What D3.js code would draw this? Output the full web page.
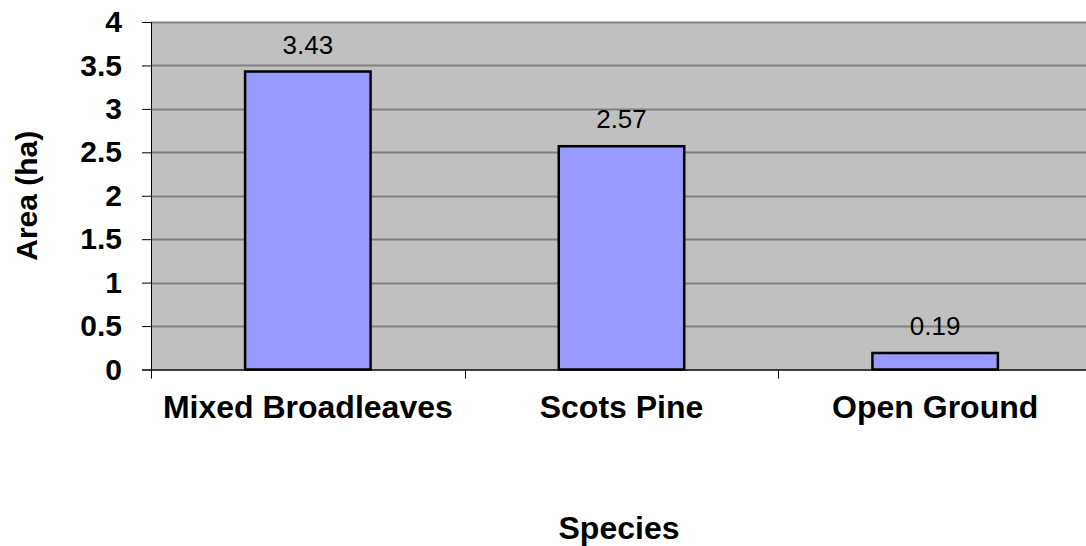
<!DOCTYPE html>
<html>
<head>
<meta charset="utf-8">
<script src="https://cdn.jsdelivr.net/npm/d3@7"></script>
<style>
body{margin:0;background:#fff;}
svg{display:block;font-family:Arial,"Liberation Sans",sans-serif;}
</style>
</head>
<body>
<svg id="chart" width="1086" height="546"></svg>
<script>
const categories = ["Mixed Broadleaves", "Scots Pine", "Open Ground"];
const values = [3.43, 2.57, 0.19];
const valueLabels = ["3.43", "2.57", "0.19"];
const yTicks = [0, 0.5, 1, 1.5, 2, 2.5, 3, 3.5, 4];
const yTickLabels = ["0", "0.5", "1", "1.5", "2", "2.5", "3", "3.5", "4"];
const xTitle = "Species";
const yTitle = "Area (ha)";

const svg = d3.select("#chart");
const pLeft = 151, pRight = 1092, pTop = 22, pBottom = 369.5;

const x = d3.scaleBand().domain(categories).range([pLeft, pRight]).paddingInner(0.6).paddingOuter(0.3);
const xCat = d3.scaleBand().domain(categories).range([pLeft, pRight]);
const y = d3.scaleLinear().domain([0, 4]).range([pBottom, pTop]);

// plot background
svg.append("rect").attr("x", pLeft).attr("y", pTop).attr("width", pRight - pLeft).attr("height", pBottom - pTop).attr("fill", "#c0c0c0");

// gridlines
svg.append("g").selectAll("line").data(yTicks.filter(d => d > 0)).join("line")
  .attr("x1", pLeft).attr("x2", pRight)
  .attr("y1", d => Math.round(y(d)) + 0.5).attr("y2", d => Math.round(y(d)) + 0.5)
  .attr("stroke", "#808080").attr("stroke-width", 2);

// y axis
const yAxis = d3.axisLeft(y).tickValues(yTicks).tickFormat((d, i) => yTickLabels[i]).tickSize(9).tickPadding(20);
const gy = svg.append("g").attr("transform", `translate(${pLeft},0)`).call(yAxis);
gy.select(".domain").attr("stroke", "#000").attr("stroke-width", 1);
gy.selectAll(".tick line").attr("stroke", "#000");
gy.selectAll(".tick text").attr("font-size", 30).attr("font-weight", "bold").attr("fill", "#000")
  .attr("font-family", "Arial, 'Liberation Sans', sans-serif");

// bars
svg.append("g").selectAll("rect").data(categories).join("rect")
  .attr("x", d => x(d)).attr("width", x.bandwidth())
  .attr("y", (d, i) => y(values[i])).attr("height", (d, i) => y(0) - y(values[i]))
  .attr("fill", "#9999ff").attr("stroke", "#000").attr("stroke-width", 2.5);

// x axis
const xAxis = d3.axisBottom(xCat).tickSize(0).tickPadding(0);
const gx = svg.append("g").attr("transform", `translate(0,${pBottom})`).call(xAxis);
gx.select(".domain").attr("stroke", "#000").attr("stroke-width", 1.5);
gx.selectAll(".tick text").attr("font-size", 32).attr("font-weight", "bold").attr("fill", "#000")
  .attr("y", 48.5).attr("dy", 0).attr("font-family", "Arial, 'Liberation Sans', sans-serif");
// category boundary ticks
const bounds = categories.map(d => xCat(d)).concat([pRight]);
svg.append("g").selectAll("line").data(bounds).join("line")
  .attr("x1", d => Math.round(d) + 0.5).attr("x2", d => Math.round(d) + 0.5)
  .attr("y1", pBottom).attr("y2", pBottom + 9).attr("stroke", "#000");

// value labels
svg.append("g").selectAll("text").data(categories).join("text")
  .attr("x", d => x(d) + x.bandwidth() / 2)
  .attr("y", (d, i) => y(values[i]) - 18)
  .attr("text-anchor", "middle").attr("font-size", 26).attr("fill", "#000")
  .text((d, i) => valueLabels[i]);

// axis titles
svg.append("text").attr("x", 619).attr("y", 539).attr("text-anchor", "middle")
  .attr("font-size", 32).attr("font-weight", "bold").text(xTitle);
svg.append("text").attr("transform", `translate(37,${(pTop + pBottom) / 2}) rotate(-90)`).attr("text-anchor", "middle")
  .attr("font-size", 30).attr("font-weight", "bold").text(yTitle);
</script>
</body>
</html>
